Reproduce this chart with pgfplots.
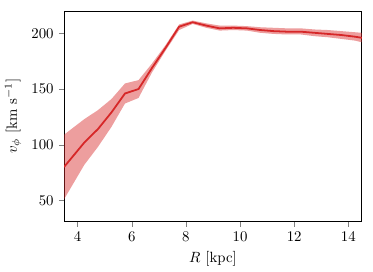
\documentclass[border=0pt]{standalone}
\usepackage{pgfplots}
\pgfplotsset{compat=1.18}
\definecolor{tabred}{RGB}{214,39,40}
\begin{document}
\begin{tikzpicture}
\begin{axis}[
  scale only axis, width=201pt, height=142pt,
  xmin=3.5, xmax=14.5, ymin=31, ymax=220,
  xtick={4,6,8,10,12,14}, ytick={50,100,150,200},
  tick align=outside, tick pos=left,
  major tick length=3.5pt,
  axis line style={line width=0.6pt},
  xlabel={$R$ [kpc]}, ylabel={$v_\phi$ [km s$^{-1}$]},
  clip=true,
]
\addplot[fill=tabred, fill opacity=0.45, draw=none] coordinates {
(3.5,109) (4.25,123) (4.75,131) (5.25,141) (5.75,155) (6.25,158) (6.75,173) (7.25,189.5) (7.75,208) (8.25,211.5) (8.75,209) (9.25,207) (9.75,207) (10.25,206.5) (10.75,205.5) (11.25,205) (11.75,204.5) (12.25,204.5) (12.75,203.5) (13.25,203) (13.75,202) (14.25,201) (14.5,200.5)
(14.5,192) (14.25,193.5) (13.75,195) (13.25,196.5) (12.75,197.5) (12.25,199) (11.75,199) (11.25,199.5) (10.75,200.5) (10.25,202.5) (9.75,203) (9.25,202.5) (8.75,205) (8.25,208.5) (7.75,203) (7.25,184.5) (6.75,165) (6.25,142) (5.75,137) (5.25,116) (4.75,98) (4.25,82) (3.5,51)
} -- cycle;
\addplot[tabred, line width=1.2pt] coordinates {
(3.5,80) (4.25,102) (4.75,114) (5.25,129) (5.75,146) (6.25,150) (6.75,169) (7.25,187) (7.75,206) (8.25,210) (8.75,207) (9.25,204.5) (9.75,205) (10.25,204.5) (10.75,203) (11.25,202) (11.75,201.5) (12.25,201.5) (12.75,200.5) (13.25,199.5) (13.75,198.5) (14.25,197) (14.5,196)
};
\path (rel axis cs:1,1) ++(7.5pt,7.5pt) coordinate (tr);
\end{axis}
\path (tr) rectangle (tr);
\end{tikzpicture}
\end{document}
